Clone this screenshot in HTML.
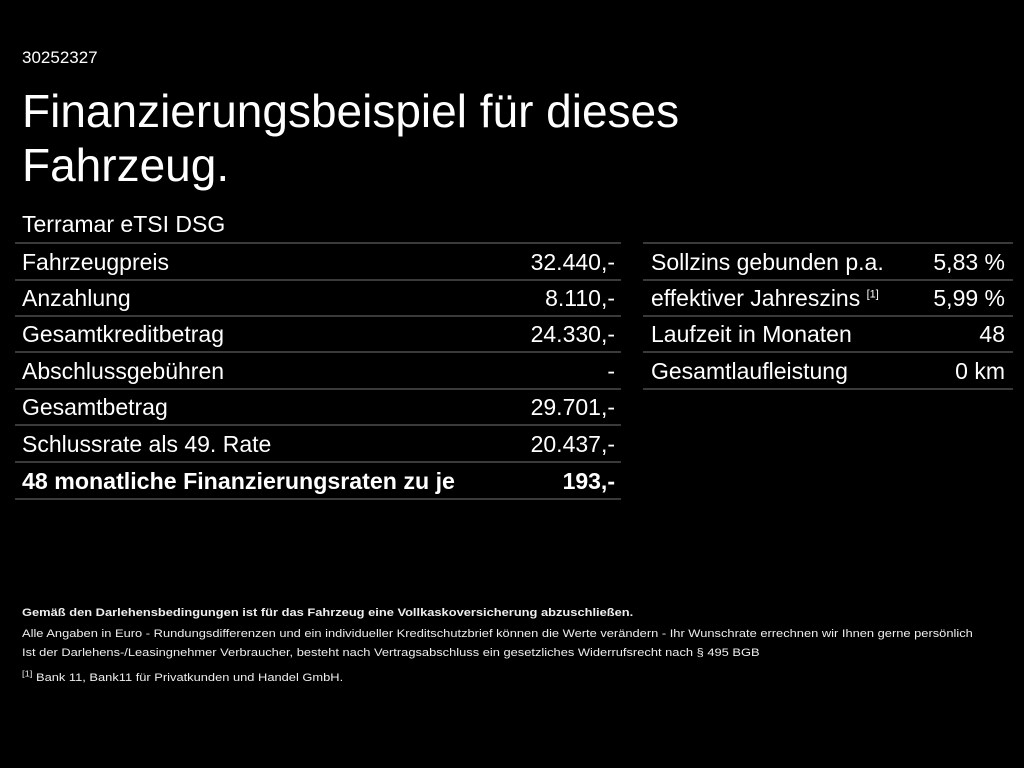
<!DOCTYPE html>
<html><head><meta charset="utf-8"><style>
body{margin:0;width:1024px;height:768px;background:#000;color:#fff;font-family:"Liberation Sans",sans-serif;position:relative;overflow:hidden}
div{position:absolute;white-space:nowrap}
.r{font-size:23px;line-height:36px}
.ln{height:2px;background:#3a3a3a}
.v{text-align:right}
.f{font-size:11px;color:#eee;left:22px;transform:scaleX(1.17);transform-origin:0 0}
sup{line-height:0}
</style></head><body>
<div style="left:22px;top:48px;font-size:17px">30252327</div>
<div style="left:22px;top:84px;font-size:46px;line-height:54px">Finanzierungsbeispiel für dieses<br>Fahrzeug.</div>
<div class="r" style="left:22px;top:206px">Terramar eTSI DSG</div>

<div class="ln" style="left:15px;width:606px;top:242px"></div>
<div class="ln" style="left:15px;width:606px;top:279px"></div>
<div class="ln" style="left:15px;width:606px;top:315px"></div>
<div class="ln" style="left:15px;width:606px;top:351px"></div>
<div class="ln" style="left:15px;width:606px;top:388px"></div>
<div class="ln" style="left:15px;width:606px;top:424px"></div>
<div class="ln" style="left:15px;width:606px;top:461px"></div>
<div class="ln" style="left:15px;width:606px;top:498px"></div>

<div class="r" style="left:22px;top:244px">Fahrzeugpreis</div><div class="r v" style="right:409px;top:244px">32.440,-</div>
<div class="r" style="left:22px;top:280px">Anzahlung</div><div class="r v" style="right:409px;top:280px">8.110,-</div>
<div class="r" style="left:22px;top:316px">Gesamtkreditbetrag</div><div class="r v" style="right:409px;top:316px">24.330,-</div>
<div class="r" style="left:22px;top:353px">Abschlussgebühren</div><div class="r v" style="right:409px;top:353px">-</div>
<div class="r" style="left:22px;top:389px">Gesamtbetrag</div><div class="r v" style="right:409px;top:389px">29.701,-</div>
<div class="r" style="left:22px;top:426px">Schlussrate als 49. Rate</div><div class="r v" style="right:409px;top:426px">20.437,-</div>
<div class="r" style="left:22px;top:463px;font-weight:bold;font-size:23.2px">48 monatliche Finanzierungsraten zu je</div><div class="r v" style="right:409px;top:463px;font-weight:bold">193,-</div>

<div class="ln" style="left:643px;width:370px;top:242px"></div>
<div class="ln" style="left:643px;width:370px;top:279px"></div>
<div class="ln" style="left:643px;width:370px;top:315px"></div>
<div class="ln" style="left:643px;width:370px;top:351px"></div>
<div class="ln" style="left:643px;width:370px;top:388px"></div>

<div class="r" style="left:651px;top:244px">Sollzins gebunden p.a.</div><div class="r v" style="right:19px;top:244px">5,83 %</div>
<div class="r" style="left:651px;top:280px">effektiver Jahreszins <sup style="font-size:11px">[1]</sup></div><div class="r v" style="right:19px;top:280px">5,99 %</div>
<div class="r" style="left:651px;top:316px">Laufzeit in Monaten</div><div class="r v" style="right:19px;top:316px">48</div>
<div class="r" style="left:651px;top:353px">Gesamtlaufleistung</div><div class="r v" style="right:19px;top:353px">0 km</div>

<div class="f" style="top:607px;font-weight:bold">Gemäß den Darlehensbedingungen ist für das Fahrzeug eine Vollkaskoversicherung abzuschließen.</div>
<div class="f" style="top:628px">Alle Angaben in Euro - Rundungsdifferenzen und ein individueller Kreditschutzbrief können die Werte verändern - Ihr Wunschrate errechnen wir Ihnen gerne persönlich</div>
<div class="f" style="top:647px">Ist der Darlehens-/Leasingnehmer Verbraucher, besteht nach Vertragsabschluss ein gesetzliches Widerrufsrecht nach § 495 BGB</div>
<div class="f" style="top:672px"><sup style="font-size:8px">[1]</sup> Bank 11, Bank11 für Privatkunden und Handel GmbH.</div>
</body></html>
